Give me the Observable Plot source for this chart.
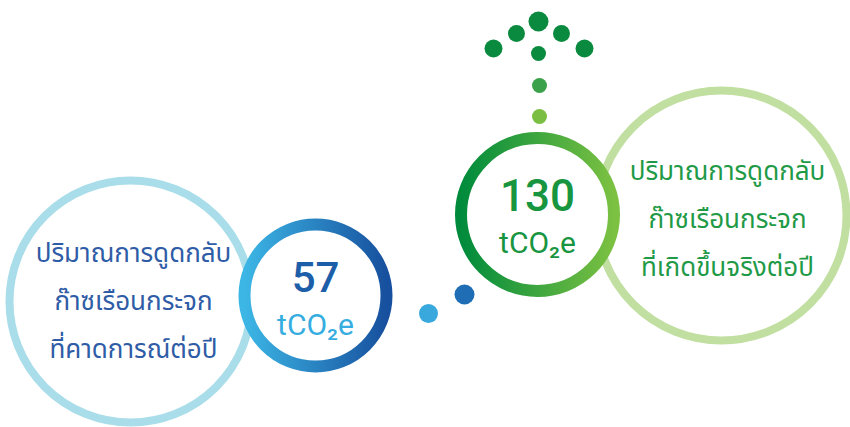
<!DOCTYPE html>
<html>
<head>
<meta charset="utf-8">
<script src="https://cdn.jsdelivr.net/npm/d3@7"></script>
<script src="https://cdn.jsdelivr.net/npm/@observablehq/plot@0.6"></script>
<style>
  html, body { margin: 0; padding: 0; background: #fff; }
  svg { display: block; }
</style>
</head>
<body>
<div id="chart"></div>
<script>
// ---- data ----
const series = ["expected", "actual"];
const values = [57, 130];
const unit = "tCO₂e";
const labels = [
  "ปริมาณการดูดกลับ\nก๊าซเรือนกระจก\nที่คาดการณ์ต่อปี",
  "ปริมาณการดูดกลับ\nก๊าซเรือนกระจก\nที่เกิดขึ้นจริงต่อปี"
];

// ---- layout (pixel space) ----
const valueRing = [{cx: 315, cy: 295, r: 71}, {cx: 537, cy: 214, r: 76.5}];
const labelRing = [{cx: 130, cy: 301, r: 121}, {cx: 721, cy: 215, r: 125}];
const labelPos = [{x: 133, y: 294}, {x: 727, y: 212}];
const valueOffset = [{v: -17, u: 30}, {v: -18, u: 29}];
const valueColor = ["#1d5ea8", "#17953f"];
const unitColor = ["#36ade0", "#17953f"];
const labelColor = ["#2f5ca6", "#1f9a47"];
const labelRingColor = ["#a9dde9", "#c0dfa0"];
const connector = [
  {x: 428, y: 313, r: 9.5, c: "#39a9dd"},
  {x: 464, y: 294, r: 10, c: "#1f6db4"}
];
const arrow = [
  {x: 538, y: 21, r: 10, c: "#0a8a3e"},
  {x: 516, y: 33, r: 8.5, c: "#0a8a3e"},
  {x: 561, y: 33, r: 8.5, c: "#0a8a3e"},
  {x: 493, y: 48, r: 9, c: "#0a8a3e"},
  {x: 584, y: 48, r: 9, c: "#0a8a3e"},
  {x: 538, y: 53, r: 7.5, c: "#0a8a3e"},
  {x: 539, y: 85, r: 7.5, c: "#3ba24b"},
  {x: 539, y: 116, r: 7.5, c: "#7abf43"}
];

const rows = series.map((s, i) => ({
  s, value: values[i], label: labels[i],
  vx: valueRing[i].cx, vy: valueRing[i].cy, vr: valueRing[i].r,
  lx: labelRing[i].cx, ly: labelRing[i].cy, lr: labelRing[i].r,
  tx: labelPos[i].x, ty: labelPos[i].y,
  ny: valueRing[i].cy + valueOffset[i].v, uy: valueRing[i].cy + valueOffset[i].u
}));

const defs = () => {
  const g = d3.create("svg:g");
  const d = g.append("defs");
  const stops = [["#3cb6e5", "#17509e"], ["#008b3c", "#7cc142"]];
  ["gBlue", "gGreen"].forEach((id, i) => {
    const lg = d.append("linearGradient").attr("id", id)
      .attr("x1", "0").attr("x2", "1").attr("y1", "0").attr("y2", "0");
    lg.append("stop").attr("offset", "0").attr("stop-color", stops[i][0]);
    lg.append("stop").attr("offset", "1").attr("stop-color", stops[i][1]);
  });
  return g.node();
};

const thaiFont = "'Noto Sans Thai', 'Noto Sans', 'DejaVu Sans', sans-serif";
const numFont = "Roboto, 'Noto Sans', sans-serif";

const chart = Plot.plot({
  width: 850,
  height: 427,
  margin: 0,
  x: {domain: [0, 850], range: [0, 850], axis: null},
  y: {domain: [0, 427], range: [0, 427], axis: null},
  r: {type: "identity"},
  marks: [
    defs,
    Plot.dot(rows, {x: "lx", y: "ly", r: "lr", stroke: (d, i) => labelRingColor[i], strokeWidth: 8, fill: "none"}),
    Plot.dot([rows[0]], {x: "vx", y: "vy", r: "vr", stroke: "url(#gBlue)", strokeWidth: 12, fill: "white"}),
    Plot.dot([rows[1]], {x: "vx", y: "vy", r: "vr", stroke: "url(#gGreen)", strokeWidth: 12, fill: "white"}),
    Plot.dot(connector, {x: "x", y: "y", r: "r", fill: "c"}),
    Plot.dot(arrow, {x: "x", y: "y", r: "r", fill: "c"}),
    Plot.text(rows, {x: "vx", y: "ny", text: d => String(d.value),
      fill: (d, i) => valueColor[i], fontSize: (d, i) => i ? 44 : 42, fontWeight: 500,
      fontFamily: numFont, textAnchor: "middle", lineAnchor: "middle"}),
    Plot.text(rows, {x: "vx", y: "uy", text: () => unit,
      fill: (d, i) => unitColor[i], fontSize: 30, fontFamily: numFont,
      textAnchor: "middle", lineAnchor: "middle"}),
    Plot.text(rows, {x: "tx", y: "ty", text: "label",
      fill: (d, i) => labelColor[i], fontSize: 26, lineHeight: 1.85,
      fontFamily: thaiFont, textAnchor: "middle", lineAnchor: "middle"})
  ]
});
document.getElementById("chart").appendChild(chart);
</script>
</body>
</html>
